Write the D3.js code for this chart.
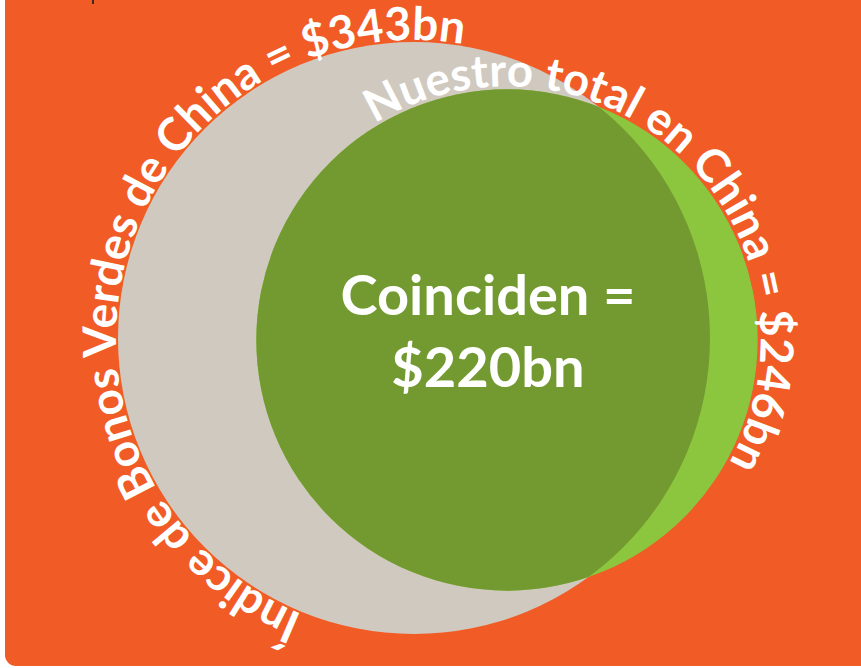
<!DOCTYPE html>
<html>
<head>
<meta charset="utf-8">
<script src="https://cdn.jsdelivr.net/npm/d3@7"></script>
<style>
  html, body { margin: 0; padding: 0; background: #fff; }
  svg { display: block; }
  text { font-family: Lato, "Open Sans", sans-serif; font-weight: 700; fill: #fff; }
</style>
</head>
<body>
<svg id="chart" width="861" height="668"></svg>
<script>
// Data
const setNames = ["Índice de Bonos Verdes de China", "Nuestro total en China"];
const setTotals = [343, 246];   // $bn
const overlapTotal = 220;        // $bn
const setLabels = ["Índice de Bonos Verdes de China = $343bn", "Nuestro total en China = $246bn"];
const centerLines = ["Coinciden =", "$220bn"];

const width = 861, height = 668;
const svg = d3.select("#chart");

// radius ~ sqrt(value) so circle areas follow the totals
const r = d3.scaleSqrt().domain([0, d3.max(setTotals)]).range([0, 296]);
const r1 = r(setTotals[0]), r2 = r(setTotals[1]);

// circle centres (layout)
const c1 = [414, 338];
const c2 = [507, 340];

const colors = {
    panel: "#F15B25",
    grey: "#D0C9BF",
    light: "#8CC63F",
    dark: "#739A31"
};

// orange panel
svg.append("rect")
    .attr("x", 5).attr("y", -20)
    .attr("width", width + 20).attr("height", height + 18)
    .attr("rx", 11)
    .attr("fill", colors.panel);

// little cut-off mark at top
svg.append("rect")
    .attr("x", 92).attr("y", 0).attr("width", 2).attr("height", 4)
    .attr("fill", "#3a2a20");

const defs = svg.append("defs");
defs.append("clipPath").attr("id", "clip-grey")
    .append("circle").attr("cx", c1[0]).attr("cy", c1[1]).attr("r", r1);

svg.append("circle")
    .attr("cx", c1[0]).attr("cy", c1[1]).attr("r", r1)
    .attr("fill", colors.grey);

svg.append("circle")
    .attr("cx", c2[0]).attr("cy", c2[1]).attr("r", r2)
    .attr("fill", colors.light);

// overlap (green clipped to grey)
svg.append("circle")
    .attr("cx", c2[0]).attr("cy", c2[1]).attr("r", r2)
    .attr("clip-path", "url(#clip-grey)")
    .attr("fill", colors.dark);

// labels on the circles
const rad = deg => deg * Math.PI / 180;
const arcs = [
    { c: c1, r: r1 + 2, a0: 112, a1: 279.5 },
    { c: c2, r: r2 + 3, a0: 238.5, a1: 389 }
];
arcs.forEach((a, i) => {
    const p = d3.path();
    p.arc(a.c[0], a.c[1], a.r, rad(a.a0), rad(a.a1), false);
    defs.append("path").attr("id", "arc-" + i).attr("d", p.toString());
    const len = a.r * rad(a.a1 - a.a0);

    const t = svg.append("text")
        .attr("font-size", 42);
    t.append("textPath")
        .attr("href", "#arc-" + i)
        .text(setLabels[i]);
    // grow the font toward the arc length, then fill the rest with spacing
    let natural = t.node().getComputedTextLength();
    const fs = Math.min(47, 42 * len / natural);
    t.attr("font-size", fs.toFixed(1));
    natural = t.node().getComputedTextLength();
    const n = setLabels[i].length;
    t.attr("letter-spacing", ((len - natural) / (n - 1)).toFixed(2));
});

// centre label
svg.selectAll("text.center")
    .data(centerLines)
    .join("text")
    .attr("class", "center")
    .attr("x", 488)
    .attr("y", (d, i) => 315 + i * 72)
    .attr("text-anchor", "middle")
    .attr("font-size", 56)
    .text(d => d);
</script>
</body>
</html>
